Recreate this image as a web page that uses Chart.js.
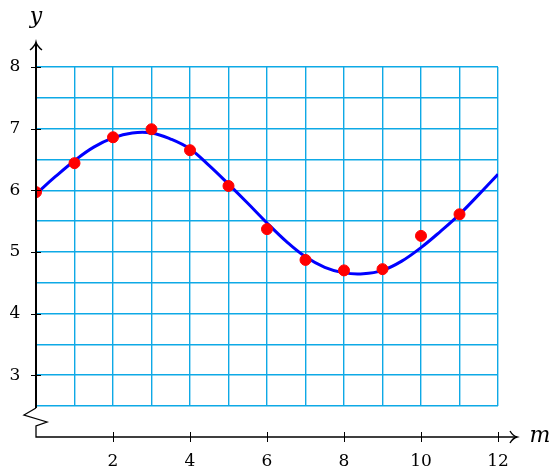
<!DOCTYPE html>
<html>
<head>
<meta charset="utf-8">
<script src="https://cdn.jsdelivr.net/npm/chart.js@4"></script>
<style>
  html, body { margin: 0; padding: 0; background: #fff; }
  #wrap { width: 552px; height: 468px; }
</style>
</head>
<body>
<div id="wrap"><canvas id="chart"></canvas></div>
<script>
// measured points
const months = [0, 1, 2, 3, 4, 5, 6, 7, 8, 9, 10, 11];
const values = [5.97, 6.44, 6.86, 6.99, 6.65, 6.07, 5.37, 4.87, 4.70, 4.72, 5.26, 5.61];

// fitted curve, every half step
const curveM = [0, 0.5, 1, 1.5, 2, 2.5, 3, 3.5, 4, 4.5, 5, 5.5, 6, 6.5, 7, 7.5, 8, 8.5, 9, 9.5, 10, 10.5, 11, 11.5, 12];
const curveY = [5.94, 6.22, 6.48, 6.70, 6.85, 6.93, 6.93, 6.83, 6.67, 6.40, 6.10, 5.79, 5.47, 5.17, 4.92, 4.75, 4.66, 4.645, 4.70, 4.85, 5.07, 5.33, 5.61, 5.93, 6.26];

const xTicks = [2, 4, 6, 8, 10, 12];
const yTicks = [3, 4, 5, 6, 7, 8];

const serif = '"DejaVu Serif", "Liberation Serif", serif';

const axesPlugin = {
    id: "axes",
    afterDraw(chart) {
        const ctx = chart.ctx;
        const xs = chart.scales.x;
        const ys = chart.scales.y;
        const x0 = xs.getPixelForValue(0);
        const yBot = ys.getPixelForValue(2.5);
        const yTop = ys.getPixelForValue(8);
        const axisY = yBot + 31;

        ctx.save();
        ctx.strokeStyle = "#000";
        ctx.lineWidth = 2;
        ctx.lineJoin = "miter";

        // y axis with break
        ctx.beginPath();
        ctx.moveTo(x0, yTop - 24);
        ctx.lineTo(x0, yBot + 2);
        ctx.stroke();
        ctx.lineWidth = 1.3;
        ctx.beginPath();
        ctx.moveTo(x0, yBot + 2);
        ctx.lineTo(x0 - 12, yBot + 9);
        ctx.lineTo(x0 + 11, yBot + 16);
        ctx.lineTo(x0, yBot + 20);
        ctx.lineTo(x0, axisY);
        ctx.lineTo(xs.getPixelForValue(12) + 19, axisY);
        ctx.stroke();

        // arrow heads
        ctx.lineWidth = 1.4;
        ctx.beginPath();
        ctx.moveTo(x0 - 6, yTop - 17);
        ctx.quadraticCurveTo(x0 - 1, yTop - 21, x0, yTop - 25);
        ctx.quadraticCurveTo(x0 + 1, yTop - 21, x0 + 6, yTop - 17);
        const xe = xs.getPixelForValue(12) + 19;
        ctx.moveTo(xe - 7, axisY - 6);
        ctx.quadraticCurveTo(xe - 4, axisY - 1, xe, axisY);
        ctx.quadraticCurveTo(xe - 4, axisY + 1, xe - 7, axisY + 6);
        ctx.stroke();

        // ticks
        ctx.lineWidth = 1;
        ctx.beginPath();
        yTicks.forEach(v => {
            const py = Math.round(ys.getPixelForValue(v)) + 0.5;
            ctx.moveTo(x0 - 5, py);
            ctx.lineTo(x0 + 5, py);
        });
        xTicks.forEach(v => {
            const px = Math.round(xs.getPixelForValue(v)) + 0.5;
            ctx.moveTo(px, axisY - 5);
            ctx.lineTo(px, axisY + 5);
        });
        ctx.stroke();

        // tick labels
        ctx.fillStyle = "#000";
        ctx.font = "17px " + serif;
        ctx.textAlign = "center";
        ctx.textBaseline = "middle";
        yTicks.forEach(v => ctx.fillText(String(v), 15, ys.getPixelForValue(v)));
        xTicks.forEach(v => ctx.fillText(String(v), xs.getPixelForValue(v), axisY + 25));

        // axis titles
        ctx.font = "italic 22px " + serif;
        ctx.fillText("y", x0, 17);
        ctx.fillText("m", 540, axisY - 1);
        ctx.restore();
    }
};

new Chart(document.getElementById("chart"), {
    type: "scatter",
    data: {
        datasets: [
            {
                type: "line",
                data: curveM.map((m, i) => ({ x: m, y: curveY[i] })),
                borderColor: "#0000ff",
                borderWidth: 3,
                pointRadius: 0,
                fill: false,
                tension: 0.4,
                order: 2,
            },
            {
                data: months.map((m, i) => ({ x: m, y: values[i] })),
                backgroundColor: "#ff0000",
                borderColor: "#ff0000",
                pointRadius: 5.5,
                order: 1,
            },
        ],
    },
    options: {
        responsive: true,
        maintainAspectRatio: false,
        animation: false,
        layout: { padding: { left: 36, right: 54, top: 67, bottom: 62 } },
        plugins: {
            legend: { display: false },
            tooltip: { enabled: false },
        },
        scales: {
            x: {
                type: "linear",
                min: 0,
                max: 12,
                ticks: { display: false, stepSize: 1 },
                grid: { color: "#0ea9e6", lineWidth: 1.4, drawTicks: false },
                border: { display: false },
            },
            y: {
                min: 2.5,
                max: 8,
                ticks: { display: false, stepSize: 0.5 },
                grid: { color: "#0ea9e6", lineWidth: 1.4, drawTicks: false },
                border: { display: false },
            },
        },
    },
    plugins: [axesPlugin],
});
</script>
</body>
</html>
